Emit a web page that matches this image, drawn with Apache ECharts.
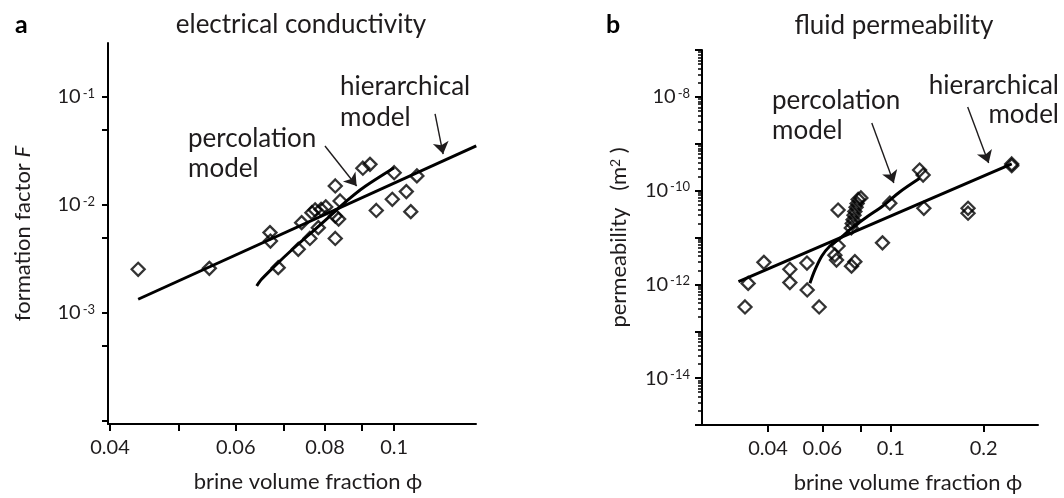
<!DOCTYPE html>
<html><head><meta charset="utf-8">
<script src="https://cdn.jsdelivr.net/npm/echarts@6/dist/echarts.min.js"></script>
<style>html,body{margin:0;padding:0;background:#fff}#c{width:1064px;height:498px}</style>
</head><body><div id="c"></div>
<script>
// ---------- Panel a: electrical conductivity ----------
const condPhi = [0.0438, 0.0551, 0.0670, 0.0671, 0.0688, 0.0734, 0.0742, 0.0762, 0.0767, 0.0775, 0.0783, 0.0790, 0.0802, 0.0827, 0.0827, 0.0827, 0.0836, 0.0840, 0.0904, 0.0925, 0.0944, 0.0994, 0.1000, 0.1040, 0.1055, 0.1076];
const condF   = [0.00254, 0.00259, 0.00555, 0.00464, 0.00263, 0.00389, 0.00686, 0.00490, 0.00849, 0.00900, 0.00617, 0.00910, 0.00960, 0.01500, 0.00490, 0.00790, 0.00740, 0.01090, 0.02190, 0.02380, 0.00890, 0.01130, 0.01990, 0.01330, 0.00867, 0.01860];
const condHierPhi = [0.0438, 0.1303];
const condHierF   = [0.00134, 0.0352];
const condPercPhi = [0.0642, 0.0652, 0.0692, 0.0729, 0.0770, 0.0813, 0.0858, 0.0905, 0.1000];
const condPercF   = [0.00178, 0.00205, 0.00303, 0.00417, 0.00574, 0.0079, 0.0109, 0.01445, 0.0221];
const condXTicks  = [0.04, 0.05, 0.06, 0.07, 0.08, 0.09, 0.1];
const condXLabels = [0.04, 0.06, 0.08, 0.1];
const condYTicks  = [1e-4, 5e-4, 1e-3, 5e-3, 1e-2, 5e-2, 1e-1];
const condYLabels = [1e-3, 1e-2, 1e-1];
const condArrowHier = [[0.1141, 0.0697], [0.1171, 0.0296]];
const condArrowPerc = [[0.0800, 0.0352], [0.0886, 0.0150]];

// ---------- Panel b: fluid permeability ----------
const permPhi = [0.0337, 0.0345, 0.0388, 0.0471, 0.0471, 0.0535, 0.0536, 0.0586, 0.0659, 0.0667, 0.0675, 0.0675, 0.0746, 0.0765, 0.0745, 0.0750, 0.0755, 0.0760, 0.0765, 0.0772, 0.0778, 0.0784, 0.0800, 0.0940, 0.0993, 0.1240, 0.1273, 0.1280, 0.1780, 0.1780, 0.2466, 0.2466];
const permK   = [3.3e-13, 1.05e-12, 2.95e-12, 2.1e-12, 1.09e-12, 2.85e-12, 7.6e-13, 3.3e-13, 4.2e-12, 3.3e-12, 6.6e-12, 3.86e-11, 2.45e-12, 3.05e-12, 1.6e-11, 2.0e-11, 2.4e-11, 3.0e-11, 3.6e-11, 4.4e-11, 5.3e-11, 6.5e-11, 7.0e-11, 7.7e-12, 5.4e-11, 2.75e-10, 2.15e-10, 4.2e-11, 4.2e-11, 3.3e-11, 3.7e-10, 3.4e-10];
const permHierPhi = [0.0321, 0.2466];
const permHierK   = [1.14e-12, 3.7e-10];
const permPercPhi = [0.0547, 0.0568, 0.0598, 0.0635, 0.0684, 0.0748, 0.0836, 0.0942, 0.1069, 0.1241];
const permPercK   = [1.054e-12, 2.03e-12, 4.03e-12, 6.59e-12, 9.52e-12, 1.60e-11, 2.74e-11, 4.70e-11, 9.35e-11, 1.83e-10];
const permXTicks  = [0.04, 0.06, 0.08, 0.1, 0.2];
const permXLabels = [0.04, 0.06, 0.1, 0.2];
const permYMajor  = [1e-15, 1e-14, 1e-13, 1e-12, 1e-11, 1e-10, 1e-9, 1e-8, 1e-7];
const permYMinorMult = [2, 3, 4, 5, 6, 7, 8, 9];
const permYLabels = [1e-14, 1e-12, 1e-10, 1e-8];
const permArrowPerc = [[0.0868, 2.77e-9], [0.1023, 1.46e-10]];
const permArrowHier = [[0.1775, 6.08e-9], [0.2076, 3.88e-10]];

// ---------- helpers ----------
const FONT = 'Lato';
const INK = '#1f1c1d';
const zip = (xs, ys) => xs.map((x, i) => [x, ys[i]]);
const permYMinor = [];
permYMajor.slice(0, -1).forEach(d => permYMinorMult.forEach(m => permYMinor.push(+(m * d).toPrecision(3))));

const powLabel = v => '{b|10}{s|' + Math.round(Math.log10(v)) + '}';
const decLabel = v => String(parseFloat((+v).toPrecision(3)));
const labelRich = {
  b: {fontFamily: FONT, fontSize: 20, color: INK},
  s: {fontFamily: FONT, fontSize: 13, color: INK, verticalAlign: 'top', padding: [0, 0, 0, 2]}
};
const axisLineStyle = {show: true, lineStyle: {color: '#000', width: 2}};

function xAxisCfg(grid, min, max, ticks, labels, nameShift) {
  return {
    type: 'log', gridIndex: grid, min: min, max: max, position: 'bottom',
    axisLine: axisLineStyle,
    axisTick: {show: true, length: 7, inside: false, customValues: ticks, lineStyle: {color: '#000', width: 2}},
    axisLabel: {show: true, customValues: labels, margin: 14, formatter: decLabel,
                fontFamily: FONT, fontSize: 20, color: INK},
    splitLine: {show: false}, minorTick: {show: false}, minorSplitLine: {show: false},
    name: 'brine volume fraction ϕ', nameLocation: 'middle', nameGap: 47,
    nameTextStyle: {fontFamily: FONT, fontSize: 22, color: INK, padding: [0, 0, 0, nameShift]}
  };
}

const dataOpts = {
  a: { scatter: zip(condPhi, condF), hier: zip(condHierPhi, condHierF), perc: zip(condPercPhi, condPercF) },
  b: { scatter: zip(permPhi, permK), hier: zip(permHierPhi, permHierK), perc: zip(permPercPhi, permPercK) }
};

const arrowLine = (pairs) => ({
  silent: true, symbol: ['none', 'arrow'], symbolSize: 12,
  label: {show: false}, emphasis: {disabled: true},
  itemStyle: {color: INK},
  lineStyle: {color: INK, width: 1.4, type: 'solid'},
  data: pairs.map(p => [{coord: p[0]}, {coord: p[1]}])
});

const diamondStyle = {color: 'rgba(255,255,255,0)', borderColor: '#000', borderWidth: 2.3};

const option = {
  animation: false,
  backgroundColor: '#fff',
  grid: [
    {left: 108, top: 43, width: 368, height: 381, containLabel: false, outerBoundsMode: 'none'},
    {left: 702, top: 50, width: 336, height: 375, containLabel: false, outerBoundsMode: 'none'}
  ],
  xAxis: [
    xAxisCfg(0, 0.03974, 0.1302, condXTicks, condXLabels, 32),
    xAxisCfg(1, 0.02445, 0.3, permXTicks, permXLabels, 76)
  ],
  yAxis: [
    { type: 'log', gridIndex: 0, position: 'left', min: Math.pow(10, -4.028), max: Math.pow(10, -0.5),
      axisLine: axisLineStyle,
      axisTick: {show: true, length: 6, customValues: condYTicks, lineStyle: {color: '#000', width: 2}},
      axisLabel: {show: true, customValues: condYLabels, margin: 13, formatter: powLabel, rich: labelRich,
                  fontFamily: FONT, fontSize: 20, color: INK},
      splitLine: {show: false}, minorTick: {show: false},
      name: 'formation factor {i|F}', nameLocation: 'middle', nameGap: 74, nameRotate: 90,
      nameTextStyle: {fontFamily: FONT, fontSize: 22, color: INK,
        rich: {i: {fontFamily: FONT, fontSize: 22, color: INK, fontStyle: 'italic'}}}
    },
    { type: 'log', gridIndex: 1, position: 'left', offset: 0, min: 1e-15, max: 1e-7,
      axisLine: axisLineStyle,
      axisTick: {show: true, length: 7, customValues: permYMajor, lineStyle: {color: '#000', width: 2}},
      axisLabel: {show: true, customValues: permYLabels, margin: 12, formatter: powLabel, rich: labelRich,
                  fontFamily: FONT, fontSize: 20, color: INK},
      splitLine: {show: false}, minorTick: {show: false},
      name: 'permeability   (m{s|2} )', nameLocation: 'middle', nameGap: 72, nameRotate: 90,
      nameTextStyle: {fontFamily: FONT, fontSize: 22, color: INK,
        rich: {s: {fontFamily: FONT, fontSize: 14, color: INK, verticalAlign: 'top'}}}
    },
    { type: 'log', gridIndex: 1, position: 'left', offset: 0, min: 1e-15, max: 1e-7,
      axisLine: {show: false},
      axisTick: {show: true, length: 4, customValues: permYMinor, lineStyle: {color: '#000', width: 1.5}},
      axisLabel: {show: false}, splitLine: {show: false}, minorTick: {show: false}
    }
  ],
  graphic: [
    {type: 'text', x: 15, y: 25, style: {text: 'a', font: 'bold 25px ' + FONT, fill: '#000', align: 'left', verticalAlign: 'middle'}},
    {type: 'text', x: 301, y: 25, style: {text: 'electrical conductivity', font: '26px ' + FONT, fill: INK, align: 'center', verticalAlign: 'middle'}},
    {type: 'text', x: 606, y: 25, style: {text: 'b', font: 'bold 25px ' + FONT, fill: '#000', align: 'left', verticalAlign: 'middle'}},
    {type: 'text', x: 894, y: 26, style: {text: 'fluid permeability', font: '26px ' + FONT, fill: INK, align: 'center', verticalAlign: 'middle'}},
    {type: 'text', x: 340, y: 71, style: {text: 'hierarchical\nmodel', font: '26px ' + FONT, lineHeight: 31, fill: INK, align: 'left', verticalAlign: 'top'}},
    {type: 'text', x: 188, y: 124, style: {text: 'percolation\nmodel', font: '26px ' + FONT, lineHeight: 30, fill: INK, align: 'left', verticalAlign: 'top'}},
    {type: 'text', x: 772, y: 86, style: {text: 'percolation\nmodel', font: '26px ' + FONT, lineHeight: 30, fill: INK, align: 'left', verticalAlign: 'top'}},
    {type: 'text', x: 1059, y: 71, style: {text: 'hierarchical\nmodel', font: '26px ' + FONT, lineHeight: 29, fill: INK, align: 'right', verticalAlign: 'top'}}
  ],
  series: [
    {type: 'line', xAxisIndex: 0, yAxisIndex: 0, data: dataOpts.a.hier, showSymbol: false, silent: true,
     lineStyle: {color: '#000', width: 3}, z: 2, markLine: arrowLine([condArrowHier, condArrowPerc])},
    {type: 'line', xAxisIndex: 0, yAxisIndex: 0, data: dataOpts.a.perc, showSymbol: false, silent: true, smooth: 0.3,
     lineStyle: {color: '#000', width: 3}, z: 2},
    {type: 'scatter', xAxisIndex: 0, yAxisIndex: 0, data: dataOpts.a.scatter, symbol: 'diamond', symbolSize: 13,
     itemStyle: diamondStyle, z: 3},
    {type: 'line', xAxisIndex: 1, yAxisIndex: 1, data: dataOpts.b.hier, showSymbol: false, silent: true,
     lineStyle: {color: '#000', width: 3}, z: 2, markLine: arrowLine([permArrowPerc, permArrowHier])},
    {type: 'line', xAxisIndex: 1, yAxisIndex: 1, data: dataOpts.b.perc, showSymbol: false, silent: true, smooth: 0.3,
     lineStyle: {color: '#000', width: 3}, z: 2},
    {type: 'scatter', xAxisIndex: 1, yAxisIndex: 1, data: dataOpts.b.scatter, symbol: 'diamond', symbolSize: 13,
     itemStyle: diamondStyle, z: 3}
  ]
};
const chart = echarts.init(document.getElementById('c'), null, {renderer: 'canvas'});
chart.setOption(option);
</script>
</body></html>
